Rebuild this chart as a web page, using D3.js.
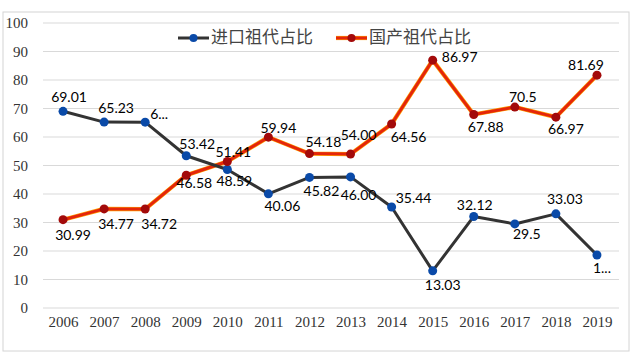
<!DOCTYPE html>
<html>
<head>
<meta charset="utf-8">
<script src="https://cdn.jsdelivr.net/npm/d3@7"></script>
<style>
  body { margin: 0; background: #fff; }
  svg { display: block; }
</style>
</head>
<body>
<div id="wrapper"></div>
<script>
// data
const years = ["2006", "2007", "2008", "2009", "2010", "2011", "2012",
  "2013", "2014", "2015", "2016", "2017", "2018", "2019"];
const importShare = [69.01, 65.23, 65.2, 53.42, 48.59, 40.06, 45.82,
  46.0, 35.44, 13.03, 32.12, 29.5, 33.03, 18.6];
const domesticShare = [30.99, 34.77, 34.72, 46.58, 51.41, 59.94, 54.18,
  54.0, 64.56, 86.97, 67.88, 70.5, 66.97, 81.69];
const importLabels = ["69.01", "65.23", "6...", "53.42", "48.59", "40.06", "45.82",
  "46.00", "35.44", "13.03", "32.12", "29.5", "33.03", "1..."];
const domesticLabels = ["30.99", "34.77", "34.72", "46.58", "51.41", "59.94", "54.18",
  "54.00", "64.56", "86.97", "67.88", "70.5", "66.97", "81.69"];
const yTicks = [0, 10, 20, 30, 40, 50, 60, 70, 80, 90, 100];
const seriesNames = ["进口祖代占比", "国产祖代占比"];

// label nudges in px from each point (style only)
const importNudge = [[6, -14], [12, -14], [14, -8], [11, -12], [7, 12], [14, 12], [12, 14],
  [8, 18], [22, -9], [10, 14], [1, -11], [12, 10], [9, -15], [5, 13]];
const domesticNudge = [[10, 15], [12, 15], [14, 15], [8, 8], [6, -9], [10, -9], [14, -11],
  [8, -19], [17, 13], [27, -3], [12, 13], [8, -10], [10, 12], [-11, -10]];

const width = 634, height = 358;
const svg = d3.select("#wrapper").append("svg")
  .attr("width", width).attr("height", height);

// frame
svg.append("rect")
  .attr("x", 3).attr("y", 12).attr("width", 626).attr("height", 339)
  .attr("fill", "none").attr("stroke", "#d4d4d4").attr("stroke-width", 1);

const x = d3.scalePoint().domain(years).range([42.5, 617.5]).padding(0.5);
const y = d3.scaleLinear().domain([0, 100]).range([308, 23]);

// gridlines
svg.append("g").selectAll("line").data(yTicks).join("line")
  .attr("x1", 43).attr("x2", 619)
  .attr("y1", d => y(d)).attr("y2", d => y(d))
  .attr("stroke", "#d9d9d9").attr("stroke-width", 1);

// y axis labels
const yAxis = svg.append("g").attr("transform", "translate(28,0)")
  .call(d3.axisLeft(y).tickValues(yTicks).tickSize(0).tickPadding(0));
yAxis.select(".domain").remove();
yAxis.selectAll("text")
  .attr("font-family", "'Liberation Serif', serif")
  .attr("font-size", 15).attr("fill", "#333");

// x axis labels
const xAxis = svg.append("g").attr("transform", "translate(0,316)")
  .call(d3.axisBottom(x).tickSize(0).tickPadding(0));
xAxis.select(".domain").remove();
xAxis.selectAll("text")
  .attr("font-family", "'Liberation Serif', serif")
  .attr("font-size", 15).attr("fill", "#333");

const line = d3.line().x((d, i) => x(years[i])).y(d => y(d));

// domestic line (orange edge + red core)
svg.append("path").attr("d", line(domesticShare))
  .attr("fill", "none").attr("stroke", "#ffa000").attr("stroke-width", 4.2)
  .attr("stroke-linejoin", "round");
svg.append("path").attr("d", line(domesticShare))
  .attr("fill", "none").attr("stroke", "#e4260a").attr("stroke-width", 3)
  .attr("stroke-linejoin", "round");

// import line
svg.append("path").attr("d", line(importShare))
  .attr("fill", "none").attr("stroke", "#333333").attr("stroke-width", 3)
  .attr("stroke-linejoin", "round");

// markers
svg.append("g").selectAll("circle").data(importShare).join("circle")
  .attr("cx", (d, i) => x(years[i])).attr("cy", d => y(d)).attr("r", 4.5)
  .attr("fill", "#0a4aa8");
svg.append("g").selectAll("circle").data(domesticShare).join("circle")
  .attr("cx", (d, i) => x(years[i])).attr("cy", d => y(d)).attr("r", 4.5)
  .attr("fill", "#a30a0a");

// data labels
function placeLabels(values, labels, nudges) {
  svg.append("g").selectAll("text").data(values).join("text")
    .attr("x", (d, i) => x(years[i]) + nudges[i][0])
    .attr("y", (d, i) => y(d) + nudges[i][1])
    .attr("dy", "0.35em")
    .attr("text-anchor", "middle")
    .attr("font-family", "Lato, sans-serif")
    .attr("font-size", 14)
    .attr("fill", "#000")
    .text((d, i) => labels[i]);
}
placeLabels(importShare, importLabels, importNudge);
placeLabels(domesticShare, domesticLabels, domesticNudge);

// legend
const legend = svg.append("g");
const legendItems = [
  { name: seriesNames[0], x: 178, dot: "#0a4aa8", stroke: "#333", glow: null },
  { name: seriesNames[1], x: 336, dot: "#a30a0a", stroke: "#e4260a", glow: "#ffa000" }
];
legendItems.forEach(item => {
  if (item.glow) {
    legend.append("line").attr("x1", item.x).attr("x2", item.x + 31)
      .attr("y1", 38).attr("y2", 38).attr("stroke", item.glow).attr("stroke-width", 4.2);
  }
  legend.append("line").attr("x1", item.x).attr("x2", item.x + 31)
    .attr("y1", 38).attr("y2", 38).attr("stroke", item.stroke)
    .attr("stroke-width", 3);
  legend.append("circle").attr("cx", item.x + 15.5).attr("cy", 38).attr("r", 4)
    .attr("fill", item.dot);
  legend.append("text").attr("x", item.x + 33).attr("y", 37).attr("dy", "0.35em")
    .attr("font-family", "'Noto Sans CJK SC', sans-serif")
    .attr("font-size", 17).attr("fill", "#444")
    .text(item.name);
});
</script>
</body>
</html>
